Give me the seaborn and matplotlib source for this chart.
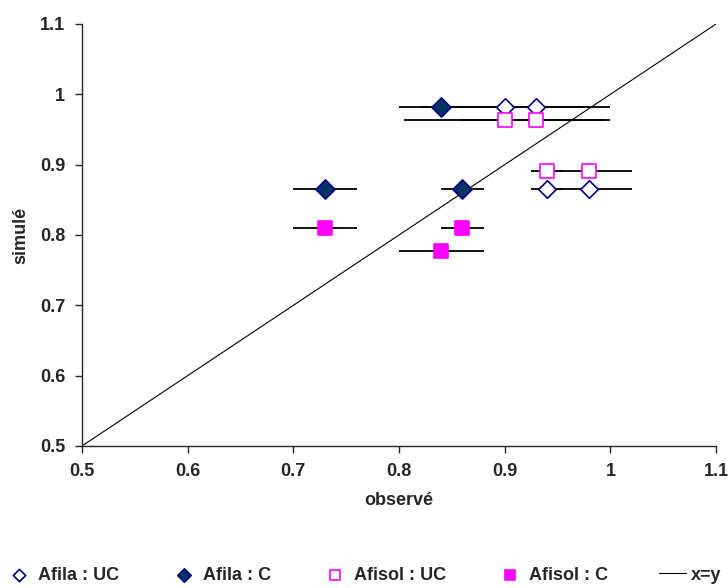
import matplotlib
matplotlib.use("Agg")
import matplotlib.pyplot as plt
import seaborn as sns
import pandas as pd

afila_uc_obs = [0.90, 0.93, 0.94, 0.98]
afila_uc_sim = [0.982, 0.982, 0.866, 0.866]
afila_uc_err = [0.08, 0.07, 0.015, 0.04]

afila_c_obs = [0.84, 0.73, 0.86]
afila_c_sim = [0.982, 0.866, 0.866]
afila_c_err = [0.04, 0.03, 0.02]

afisol_uc_obs = [0.90, 0.93, 0.94, 0.98]
afisol_uc_sim = [0.963, 0.963, 0.891, 0.891]
afisol_uc_err = [0.095, 0.07, 0.015, 0.04]

afisol_c_obs = [0.73, 0.86, 0.84]
afisol_c_sim = [0.81, 0.81, 0.777]
afisol_c_err = [0.03, 0.02, 0.04]

diag = [0.5, 1.1]
ticks = [0.5, 0.6, 0.7, 0.8, 0.9, 1.0, 1.1]
tick_labels = ['0.5', '0.6', '0.7', '0.8', '0.9', '1', '1.1']

sns.set_style("ticks")
plt.rcParams['font.family'] = ['Liberation Sans', 'DejaVu Sans']
plt.rcParams['font.weight'] = 'bold'

fig = plt.figure(figsize=(7.28, 5.88), dpi=100)
ax = fig.add_axes([0.1126, 0.2415, 0.871, 0.7177])

# horizontal bars first, under the markers
for obs, sim, err in [(afila_uc_obs, afila_uc_sim, afila_uc_err),
                      (afila_c_obs, afila_c_sim, afila_c_err),
                      (afisol_uc_obs, afisol_uc_sim, afisol_uc_err),
                      (afisol_c_obs, afisol_c_sim, afisol_c_err)]:
    ax.errorbar(obs, sim, xerr=err, fmt='none', ecolor='black', elinewidth=1.3, capsize=0, zorder=1)

sns.lineplot(x=diag, y=diag, ax=ax, color='black', linewidth=0.8, label='x=y', zorder=2)

series = [
    ('Afila : UC', afila_uc_obs, afila_uc_sim, 'D', 'white', '#000080', 80),
    ('Afila : C', afila_c_obs, afila_c_sim, 'D', '#003366', '#000080', 95),
    ('Afisol : UC', afisol_uc_obs, afisol_uc_sim, 's', 'white', '#FF00FF', 95),
    ('Afisol : C', afisol_c_obs, afisol_c_sim, 's', '#FF00FF', '#FF00FF', 110),
]
for name, obs, sim, mk, fc, ec, size in series:
    df = pd.DataFrame({'observé': obs, 'simulé': sim})
    sns.scatterplot(data=df, x='observé', y='simulé', ax=ax, marker=mk, s=size,
                    facecolor=fc, edgecolor=ec, linewidth=1.2, label=name, zorder=3)

ax.set_xlim(0.5, 1.1)
ax.set_ylim(0.5, 1.1)
ax.set_xticks(ticks)
ax.set_xticklabels(tick_labels)
ax.set_yticks(ticks)
ax.set_yticklabels(tick_labels)
ax.tick_params(labelsize=13, length=5, width=1, direction='out', pad=7)
for lab in ax.get_xticklabels() + ax.get_yticklabels():
    lab.set_fontweight('bold')
ax.set_xlabel('observé', fontsize=13, fontweight='bold', labelpad=9)
ax.set_ylabel('simulé', fontsize=13, fontweight='bold', labelpad=8)
sns.despine(ax=ax)
ax.spines['left'].set_linewidth(1)
ax.spines['bottom'].set_linewidth(1)

handles, labels = ax.get_legend_handles_labels()
order = ['Afila : UC', 'Afila : C', 'Afisol : UC', 'Afisol : C', 'x=y']
hmap = dict(zip(labels, handles))
ax.get_legend().remove()
fig.legend([hmap[k] for k in order], order, loc='center left', bbox_to_anchor=(0.008, 0.022),
           ncol=5, frameon=False, columnspacing=2.8, handletextpad=0.3, handlelength=1.5,
           borderpad=0, borderaxespad=0,
           prop={'size': 13, 'weight': 'bold'}, markerscale=0.7)

fig.savefig('out.png', dpi=100)
